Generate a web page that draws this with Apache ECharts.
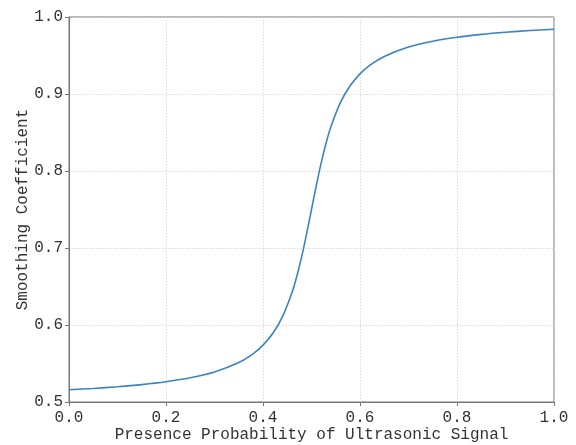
<!DOCTYPE html>
<html>
<head>
<meta charset="utf-8">
<script src="https://cdn.jsdelivr.net/npm/echarts@6/dist/echarts.min.js"></script>
<style>html,body{margin:0;padding:0;background:#fff}#c{width:576px;height:445px}</style>
</head>
<body>
<div id="c"></div>
<script>
const xValues = [0, 0.05, 0.1, 0.15, 0.2, 0.25, 0.3, 0.35, 0.38, 0.4, 0.42, 0.44, 0.46, 0.47, 0.48, 0.49, 0.5, 0.51, 0.52, 0.53, 0.54, 0.56, 0.58, 0.6, 0.62, 0.65, 0.7, 0.75, 0.8, 0.85, 0.9, 0.95, 1.0];
const yValues = [0.5159, 0.5176, 0.5198, 0.5226, 0.5263, 0.5314, 0.5390, 0.5512, 0.5628, 0.5738, 0.5889, 0.6106, 0.6426, 0.6640, 0.6894, 0.7186, 0.75, 0.7814, 0.8106, 0.8360, 0.8574, 0.8894, 0.9111, 0.9262, 0.9372, 0.9488, 0.9610, 0.9686, 0.9737, 0.9774, 0.9802, 0.9824, 0.9841];
const xTicks = ['0.0', '0.2', '0.4', '0.6', '0.8', '1.0'];
const yTicks = ['0.5', '0.6', '0.7', '0.8', '0.9', '1.0'];
const xLabel = 'Presence Probability of Ultrasonic Signal';
const yLabel = 'Smoothing Coefficient';

const font = '"Liberation Mono", monospace';
const chart = echarts.init(document.getElementById('c'), null, {renderer: 'canvas'});
chart.setOption({
  animation: false,
  grid: {left: 69, right: 22, top: 17, bottom: 43, containLabel: false, outerBoundsMode: 'none',
    show: true, borderColor: '#777', borderWidth: 1, backgroundColor: 'transparent'},
  xAxis: {
    type: 'value', min: 0, max: 1, interval: 0.2,
    name: xLabel, nameLocation: 'middle', nameGap: 25, nameMoveOverlap: false,
    nameTextStyle: {fontFamily: font, fontSize: 16, color: '#333'},
    axisLine: {show: true, lineStyle: {color: '#777', width: 1}},
    axisTick: {show: true, length: 4, lineStyle: {color: '#777'}},
    axisLabel: {margin: 8, fontFamily: font, fontSize: 16, color: '#333',
      formatter: v => xTicks[Math.round(v / 0.2)]},
    splitLine: {show: true, lineStyle: {color: '#d0d0d0', type: [1.5, 1.5], width: 0.8}}
  },
  yAxis: {
    type: 'value', min: 0.5, max: 1, interval: 0.1,
    name: yLabel, nameLocation: 'middle', nameGap: 38, nameMoveOverlap: false,
    nameTextStyle: {fontFamily: font, fontSize: 16, color: '#333'},
    axisLine: {show: true, lineStyle: {color: '#777', width: 1}},
    axisTick: {show: true, length: 4, lineStyle: {color: '#777'}},
    axisLabel: {margin: 6, fontFamily: font, fontSize: 16, color: '#333',
      formatter: v => yTicks[Math.round((v - 0.5) / 0.1)]},
    splitLine: {show: true, lineStyle: {color: '#d0d0d0', type: [1.5, 1.5], width: 0.8}}
  },
  series: [{
    type: 'line', showSymbol: false, smooth: 0.3,
    data: xValues.map((x, i) => [x, yValues[i]]),
    lineStyle: {color: '#3a84c0', width: 1.6}
  }]
});
</script>
</body>
</html>
